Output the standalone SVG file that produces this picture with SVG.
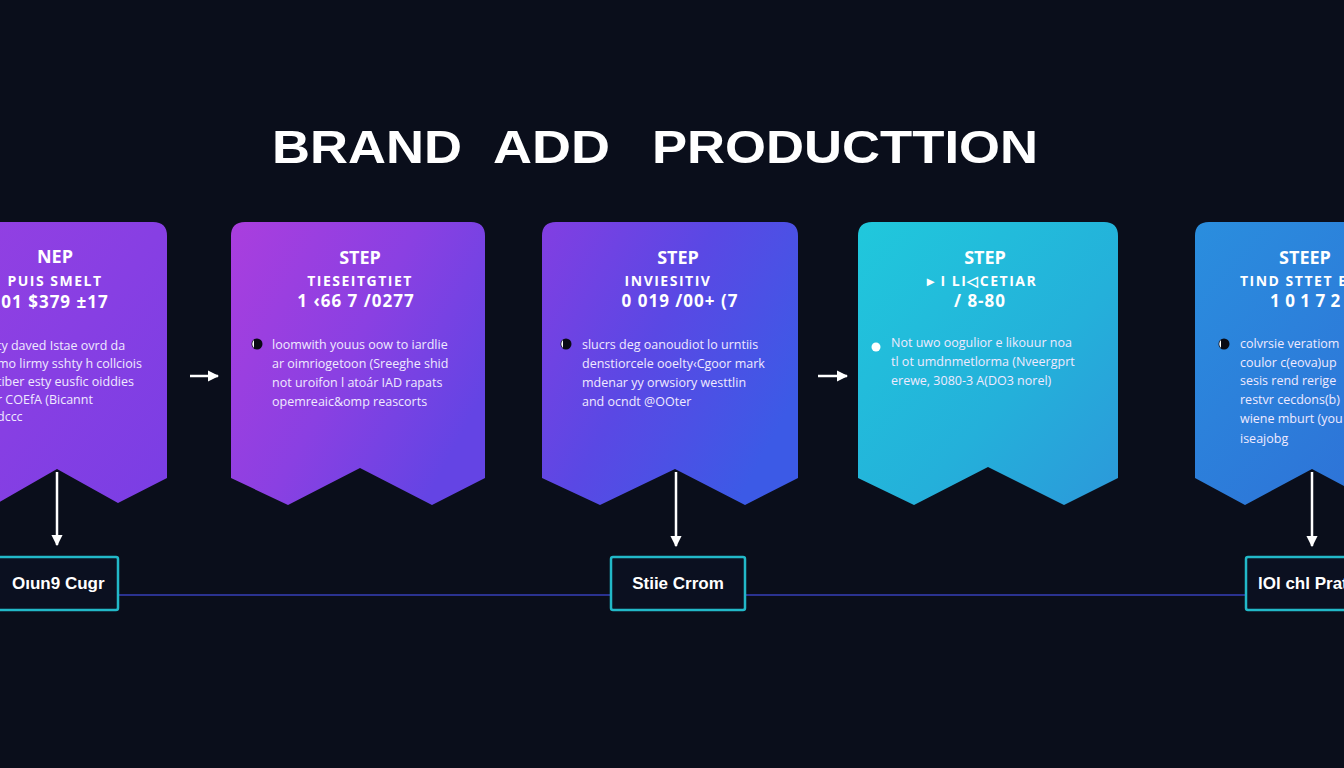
<svg xmlns="http://www.w3.org/2000/svg" width="1344" height="768" viewBox="0 0 1344 768">
  <defs>
    <linearGradient id="g1" x1="0" y1="0" x2="1" y2="1">
      <stop offset="0" stop-color="#9440e2"/>
      <stop offset="1" stop-color="#7a3ee4"/>
    </linearGradient>
    <linearGradient id="g2" x1="0" y1="0" x2="1" y2="0.6">
      <stop offset="0" stop-color="#aa3ede"/>
      <stop offset="0.55" stop-color="#8a40e2"/>
      <stop offset="1" stop-color="#6444e4"/>
    </linearGradient>
    <linearGradient id="g3" x1="0" y1="0" x2="1" y2="0.6">
      <stop offset="0" stop-color="#823ee2"/>
      <stop offset="0.5" stop-color="#5a48e4"/>
      <stop offset="1" stop-color="#3c5ae6"/>
    </linearGradient>
    <linearGradient id="g4" x1="0" y1="0" x2="1" y2="1">
      <stop offset="0" stop-color="#20c8dc"/>
      <stop offset="0.6" stop-color="#24b0da"/>
      <stop offset="1" stop-color="#2c98da"/>
    </linearGradient>
    <linearGradient id="g5" x1="0" y1="0" x2="1" y2="1">
      <stop offset="0" stop-color="#2a8ede"/>
      <stop offset="1" stop-color="#2f6cd6"/>
    </linearGradient>
    <marker id="ah" viewBox="0 0 10 10" refX="9" refY="5" markerWidth="4.5" markerHeight="4.5" orient="auto" markerUnits="strokeWidth">
      <path d="M0,0 L10,5 L0,10 Z" fill="#ffffff"/>
    </marker>
    <style>
      .title{font-family:"Liberation Sans",Arial,sans-serif;font-weight:bold;font-size:46px;fill:#ffffff}
      .h1{font-family:"Open Sans","Liberation Sans",sans-serif;font-weight:bold;font-size:18px;fill:#ffffff;text-anchor:middle}
      .h2{font-family:"Open Sans","Liberation Sans",sans-serif;font-weight:bold;font-size:14px;fill:#ffffff;text-anchor:middle;letter-spacing:1.5px}
      .h3{font-family:"Open Sans","Liberation Sans",sans-serif;font-weight:bold;font-size:17px;fill:#ffffff;text-anchor:middle;letter-spacing:1px}
      .body{font-family:"Open Sans","Liberation Sans",sans-serif;font-size:12.5px;fill:#f0eaff}
      .box{fill:#0b1020;stroke:#22b8c8;stroke-width:2.5}
      .boxt{font-family:"Liberation Sans",Arial,sans-serif;font-weight:bold;font-size:17px;fill:#ffffff}
      .arr{stroke:#ffffff;stroke-width:2.5;fill:none}
      .line{stroke:#2a3290;stroke-width:2.2}
      .card{stroke-linejoin:round}
    </style>
  </defs>
  <rect width="1344" height="768" fill="#0a0e1b"/>

  <g id="title">
    <text class="title" x="272" y="163" textLength="190" lengthAdjust="spacingAndGlyphs">BRAND</text>
    <text class="title" x="493" y="163" textLength="117" lengthAdjust="spacingAndGlyphs">ADD</text>
    <text class="title" x="652" y="163" textLength="386" lengthAdjust="spacingAndGlyphs">PRODUCTTION</text>
  </g>

  <g id="connectors">
    <line class="line" x1="118" y1="595" x2="611" y2="595"/>
    <line class="line" x1="745" y1="595" x2="1246" y2="595"/>
    <line class="arr" x1="190" y1="376" x2="218" y2="376" marker-end="url(#ah)"/>
    <line class="arr" x1="818" y1="376" x2="847" y2="376" marker-end="url(#ah)"/>
    <line class="arr" x1="57" y1="472" x2="57" y2="545" marker-end="url(#ah)"/>
    <line class="arr" x1="676" y1="472" x2="676" y2="546" marker-end="url(#ah)"/>
    <line class="arr" x1="1312" y1="472" x2="1312" y2="546" marker-end="url(#ah)"/>
  </g>

  <g id="card1">
    <path class="card" d="M-39,222 H153 Q167,222 167,236 V478 L118,503 L57,469 L-2,503 L-53,478 V236 Q-53,222 -39,222 Z" fill="url(#g1)"/>
    <text class="h1" x="55" y="263">NEP</text>
    <text class="h2" x="55" y="286">PUIS SMELT</text>
    <text class="h3" x="55" y="308">01 $379 ±17</text>
    <text class="body" x="-3" y="350">ty daved Istae ovrd da</text>
    <text class="body" x="-3" y="368">mo lirmy sshty h collciois</text>
    <text class="body" x="-3" y="386">tiber esty eusfic oiddies</text>
    <text class="body" x="-3" y="404">r COEfA (Bicannt</text>
    <text class="body" x="-3" y="421">dccc</text>
  </g>

  <g id="card2">
    <path class="card" d="M245,222 H471 Q485,222 485,236 V478 L432,505 L360,468 L288,505 L231,478 V236 Q231,222 245,222 Z" fill="url(#g2)"/>
    <text class="h1" x="360" y="264">STEP</text>
    <text class="h2" x="360" y="286">TIESEITGTIET</text>
    <text class="h3" x="356" y="307">1 ‹66 7 /0277</text>
    <circle cx="257" cy="344" r="5.5" fill="#0a0a14"/>
    <path d="M254,340 A5.5,5.5 0 0 0 254,348 Z" fill="#ffffff"/>
    <text class="body" x="272" y="349">loomwith youus oow to iardlie</text>
    <text class="body" x="272" y="368">ar oimriogetoon (Sreeghe shid</text>
    <text class="body" x="272" y="387">not uroifon l atoár IAD rapats</text>
    <text class="body" x="272" y="406">opemreaic&amp;omp reascorts</text>
  </g>

  <g id="card3">
    <path class="card" d="M556,222 H784 Q798,222 798,236 V478 L745,505 L675,469 L600,505 L542,478 V236 Q542,222 556,222 Z" fill="url(#g3)"/>
    <text class="h1" x="678" y="264">STEP</text>
    <text class="h2" x="668" y="286">INVIESITIV</text>
    <text class="h3" x="680" y="307">0 019 /00+ (7</text>
    <circle cx="566" cy="344" r="5.5" fill="#0a0a14"/>
    <path d="M563,340 A5.5,5.5 0 0 0 563,348 Z" fill="#ffffff"/>
    <text class="body" x="582" y="349">slucrs deg oanoudiot lo urntiis</text>
    <text class="body" x="582" y="368">denstiorcele ooelty‹Cgoor mark</text>
    <text class="body" x="582" y="387">mdenar yy orwsiory westtlin</text>
    <text class="body" x="582" y="406">and ocndt @OOter</text>
  </g>

  <g id="card4">
    <path class="card" d="M872,222 H1104 Q1118,222 1118,236 V478 L1064,505 L988,467 L914,505 L858,478 V236 Q858,222 872,222 Z" fill="url(#g4)"/>
    <text class="h1" x="985" y="264">STEP</text>
    <text class="h2" x="982" y="286">▸ I LI◁CETIAR</text>
    <text class="h3" x="980" y="307">/ 8-80</text>
    <circle cx="876" cy="347" r="4.5" fill="#ffffff"/>
    <text class="body" x="891" y="347">Not uwo oogulior e likouur noa</text>
    <text class="body" x="891" y="366">tl ot umdnmetlorma (Nveergprt</text>
    <text class="body" x="891" y="385">erewe, 3080-3 A(DO3 norel)</text>
  </g>

  <g id="card5">
    <path class="card" d="M1209,222 H1430 Q1444,222 1444,236 V478 L1380,505 L1312,469 L1245,505 L1195,478 V236 Q1195,222 1209,222 Z" fill="url(#g5)"/>
    <text class="h1" x="1305" y="264">STEEP</text>
    <text class="h2" x="1240" y="286" style="text-anchor:start">TIND STTET E</text>
    <text class="h3" x="1270" y="307" style="text-anchor:start;letter-spacing:0.5px">1 0 1 7 2 1 1</text>
    <circle cx="1224" cy="344" r="5.5" fill="#0a0a14"/>
    <path d="M1221,340 A5.5,5.5 0 0 0 1221,348 Z" fill="#ffffff"/>
    <text class="body" x="1240" y="348">colvrsie veratiom</text>
    <text class="body" x="1240" y="367">coulor c(eova)up</text>
    <text class="body" x="1240" y="385">sesis rend rerige</text>
    <text class="body" x="1240" y="404">restvr cecdons(b)</text>
    <text class="body" x="1240" y="423">wiene mburt (you</text>
    <text class="body" x="1240" y="443">iseajobg</text>
  </g>

  <g id="box1">
    <rect class="box" x="-6" y="557" width="124" height="53" rx="2"/>
    <text class="boxt" x="12" y="589">Oıun9 Cugr</text>
  </g>
  <g id="box2">
    <rect class="box" x="611" y="557" width="134" height="53" rx="2"/>
    <text class="boxt" x="678" y="589" text-anchor="middle">Stiie Crrom</text>
  </g>
  <g id="box3">
    <rect class="box" x="1246" y="557" width="120" height="53" rx="2"/>
    <text class="boxt" x="1258" y="589">lOl chl Prat</text>
  </g>
</svg>
